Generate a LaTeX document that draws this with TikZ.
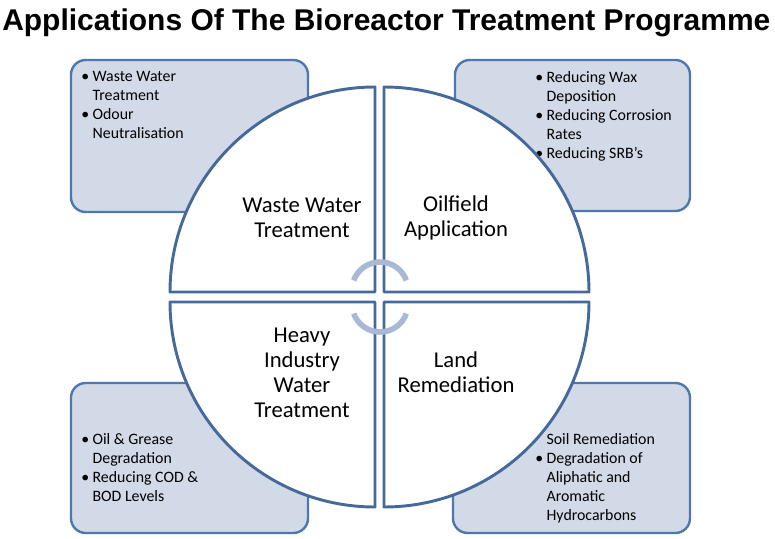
\documentclass[tikz,border=0pt]{standalone}
\usepackage{fontspec}
\setmainfont{Carlito}
\newfontfamily\titlefont{Liberation Sans}
\usepackage{graphicx}
\usetikzlibrary{positioning}

\definecolor{ink}{HTML}{000000}
\definecolor{rim}{HTML}{46699C}
\definecolor{boxrim}{HTML}{4E77AE}
\definecolor{boxfill}{HTML}{D2DAE8}
\definecolor{cycle}{HTML}{A8B9D6}

\newcommand{\bul}{\makebox[8.5pt][l]{\textbullet}}
\newcommand{\ind}{\hspace*{8.5pt}}

\tikzset{
  % the four corner panels
  panel/.style={draw=boxrim, line width=1.8pt, fill=boxfill, rounded corners=11pt},
  % the quarter discs
  quarter/.style={fill=white},
  quarterrim/.style={draw=rim, line width=2.2pt, line join=round},
  turn/.style={draw=cycle, line width=4.2pt},
  %
  qlabel/.style={font=\fontsize{17}{18.8}\selectfont, text=ink, align=center, inner sep=0pt},
  plist/.style={font=\fontsize{11.9}{14.25}\selectfont, text=ink, align=left, inner sep=0pt,
                anchor=north west},
}

\begin{document}
\begin{tikzpicture}[x=0.75pt, y=-0.75pt]
  \useasboundingbox (0,0) rectangle (775,539);

  % --- title -------------------------------------------------------------
  \node[anchor=base west, inner sep=0pt] (title) at (2,30)
    {\resizebox{576pt}{!}{\titlefont\bfseries Applications Of The Bioreactor Treatment Programme}};

  % --- corner panels -----------------------------------------------------
  \draw[panel] (71,60) rectangle (308,212);
  \draw[panel] (455,60) rectangle (690,211);
  \draw[panel] (71,383) rectangle (308,533);
  \draw[panel] (453,383) rectangle (690,533);

  \node[plist] (listww) at (81,71)
    {\bul Waste Water\\\ind Treatment\\\bul Odour\\\ind Neutralisation};
  \node[plist] (listoil) at (535,71)
    {\bul Reducing Wax\\\ind Deposition\\\bul Reducing Corrosion\\\ind Rates\\\bul Reducing SRB’s};
  \node[plist] (listheavy) at (81,433)
    {\bul Oil \& Grease\\\ind Degradation\\\bul Reducing COD \&\\\ind BOD Levels};
  \node[plist] (listland) at (535,433)
    {\ind Soil Remediation\\\bul Degradation of\\\ind Aliphatic and\\\ind Aromatic\\\ind Hydrocarbons};

  % --- quarter discs -----------------------------------------------------
  \foreach \s in {quarter, quarterrim}{
    \path[\s] (375,292) -- (170,292) arc[start angle=180, end angle=270, radius=205] -- cycle;
    \path[\s] (384,292) -- (384,87) arc[start angle=270, end angle=360, radius=205] -- cycle;
    \path[\s] (384,302) -- (589,302) arc[start angle=0, end angle=90, radius=205] -- cycle;
    \path[\s] (375,302) -- (375,507) arc[start angle=90, end angle=180, radius=205] -- cycle;
  }

  % the two turning arcs in the middle
  \draw[turn] (380,290) ++(200:28) arc[start angle=200, end angle=340, radius=28];
  \draw[turn] (380,304) ++(160:28) arc[start angle=160, end angle=20, radius=28];

  \node[qlabel] (waste) at (302,217.5) {Waste Water\\Treatment};
  \node[qlabel] (oil) at (456,217.5) {Oilfield\\Application};
  \node[qlabel] (heavy) at (302,373) {Heavy\\Industry\\Water\\Treatment};
  \node[qlabel] (land) at (456,372.5) {Land\\Remediation};

\end{tikzpicture}
\end{document}
